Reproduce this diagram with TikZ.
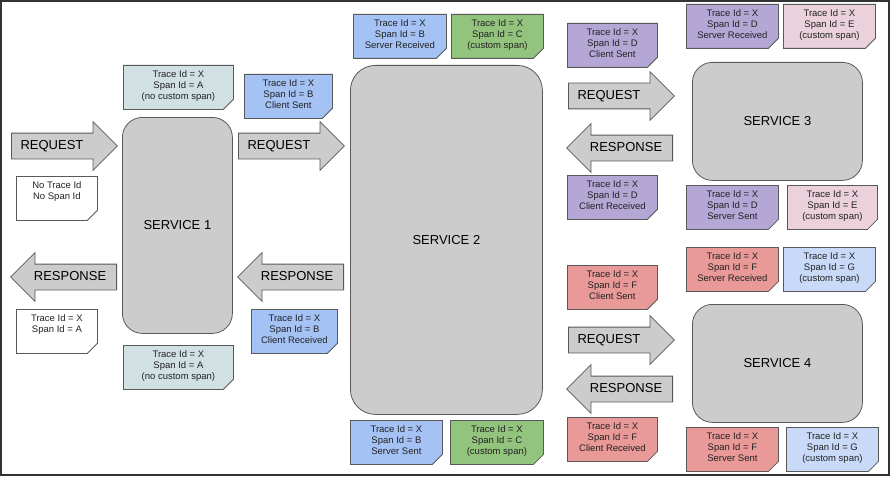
\documentclass[tikz,border=0pt]{standalone}
\usepackage{fontspec}
\setmainfont{Liberation Sans}
\usetikzlibrary{shapes.misc,shapes.arrows}

\definecolor{linegray}{HTML}{595959}
\definecolor{boxgray}{HTML}{CCCCCC}
\definecolor{framegray}{HTML}{333333}
\definecolor{txtgray}{HTML}{222222}
\definecolor{spanA}{HTML}{D0E0E3}
\definecolor{spanB}{HTML}{A4C2F4}
\definecolor{spanC}{HTML}{93C47D}
\definecolor{spanD}{HTML}{B4A7D6}
\definecolor{spanE}{HTML}{EAD1DC}
\definecolor{spanF}{HTML}{EA9999}
\definecolor{spanG}{HTML}{C9DAF8}
\definecolor{spanW}{HTML}{FFFFFF}

% note text: lines from the top, fixed depth
\newcommand{\ntxt}[1]{\begin{tabular}[t]{@{}c@{}}#1\end{tabular}\rule[-26.4pt]{0pt}{1pt}}

\tikzset{
  note/.style={chamfered rectangle, chamfered rectangle corners=south east,
    chamfered rectangle sep=5pt, draw=linegray, line width=0.8pt, fill=#1,
    inner xsep=0pt, inner ysep=0pt, minimum height=44pt, anchor=north west,
    text=txtgray, font=\fontsize{9.5}{10.8}\selectfont,
    path picture={\fill[#1!80!black] (path picture bounding box.south east)
      ++(-5pt,0) -- ++(5pt,5pt) -- ++(-5pt,0) -- cycle;}},
  service/.style={rectangle, draw=linegray, line width=0.8pt, fill=boxgray,
    rounded corners=#1, anchor=north west, font=\fontsize{13}{13}\selectfont},
  bigarrow/.style={single arrow, draw=linegray, line width=0.8pt, fill=boxgray,
    single arrow head extend=11.5pt, single arrow head indent=0pt,
    minimum height=106pt, inner ysep=6.5pt, text height=9.5pt, text depth=2.5pt,
    anchor=tail, font=\fontsize{13}{13}\selectfont},
  leftarrow/.style={bigarrow, shape border rotate=180}
}

\begin{document}
\begin{tikzpicture}[x=1pt,y=-1pt]
\useasboundingbox (0,0) rectangle (890,476);
\draw[line width=2pt,color=framegray] (1,1) rectangle (889,475);

% services
\node[service=20pt, minimum width=110pt, minimum height=216pt] (svc1) at (122,117) {SERVICE 1};
\node[service=25pt, minimum width=192pt, minimum height=349pt] (svc2) at (350,65) {SERVICE 2};
\node[service=20pt, minimum width=170pt, minimum height=118pt] (svc3) at (692,62) {SERVICE 3};
\node[service=20pt, minimum width=170pt, minimum height=118pt] (svc4) at (692,304) {SERVICE 4};

% arrows
\node[bigarrow] (req1) at (11,146) {REQUEST\kern12pt};
\node[leftarrow] (resp1) at (117,277) {RESPONSE};
\node[bigarrow] (req2) at (238,146) {REQUEST\kern12pt};
\node[leftarrow] (resp2) at (344,277) {RESPONSE};
\node[bigarrow] (req3) at (568,96) {REQUEST\kern12pt};
\node[leftarrow] (resp3) at (673,148) {RESPONSE};
\node[bigarrow] (req4) at (568,340) {REQUEST\kern12pt};
\node[leftarrow] (resp4) at (673,389) {RESPONSE};

% notes around service 1
\node[note=spanA, minimum width=110pt] (aTop) at (123,65) {\ntxt{Trace Id = X\\Span Id = A\\(no custom span)}};
\node[note=spanW, minimum width=81pt] (noId) at (16,176) {\ntxt{No Trace Id\\No Span Id}};
\node[note=spanW, minimum width=81pt] (idA) at (16,309) {\ntxt{Trace Id = X\\Span Id = A}};
\node[note=spanA, minimum width=110pt] (aBot) at (123,345) {\ntxt{Trace Id = X\\Span Id = A\\(no custom span)}};

% notes around service 2
\node[note=spanB, minimum width=88pt] (bCS) at (244,74) {\ntxt{Trace Id = X\\Span Id = B\\Client Sent}};
\node[note=spanB, minimum width=86pt] (bCR) at (251,309) {\ntxt{Trace Id = X\\Span Id = B\\Client Received}};
\node[note=spanB, minimum width=93pt] (bSR) at (353,14) {\ntxt{Trace Id = X\\Span Id = B\\Server Received}};
\node[note=spanC, minimum width=92pt] (cTop) at (451,14) {\ntxt{Trace Id = X\\Span Id = C\\(custom span)}};
\node[note=spanB, minimum width=92pt] (bSS) at (350,420) {\ntxt{Trace Id = X\\Span Id = B\\Server Sent}};
\node[note=spanC, minimum width=93pt] (cBot) at (450,420) {\ntxt{Trace Id = X\\Span Id = C\\(custom span)}};

% notes around service 3
\node[note=spanD, minimum width=90pt] (dCS) at (567,23) {\ntxt{Trace Id = X\\Span Id = D\\Client Sent}};
\node[note=spanD, minimum width=92pt] (dSR) at (686,4) {\ntxt{Trace Id = X\\Span Id = D\\Server Received}};
\node[note=spanE, minimum width=92pt] (eTop) at (783,4) {\ntxt{Trace Id = X\\Span Id = E\\(custom span)}};
\node[note=spanD, minimum width=90pt] (dCR) at (567,175) {\ntxt{Trace Id = X\\Span Id = D\\Client Received}};
\node[note=spanD, minimum width=92pt] (dSS) at (686,185) {\ntxt{Trace Id = X\\Span Id = D\\Server Sent}};
\node[note=spanE, minimum width=90pt] (eBot) at (787,185) {\ntxt{Trace Id = X\\Span Id = E\\(custom span)}};

% notes around service 4
\node[note=spanF, minimum width=90pt] (fCS) at (567,265) {\ntxt{Trace Id = X\\Span Id = F\\Client Sent}};
\node[note=spanF, minimum width=92pt] (fSR) at (686,247) {\ntxt{Trace Id = X\\Span Id = F\\Server Received}};
\node[note=spanG, minimum width=92pt] (gTop) at (783,247) {\ntxt{Trace Id = X\\Span Id = G\\(custom span)}};
\node[note=spanF, minimum width=90pt] (fCR) at (567,417) {\ntxt{Trace Id = X\\Span Id = F\\Client Received}};
\node[note=spanF, minimum width=92pt] (fSS) at (686,427) {\ntxt{Trace Id = X\\Span Id = F\\Server Sent}};
\node[note=spanG, minimum width=92pt] (gBot) at (786,427) {\ntxt{Trace Id = X\\Span Id = G\\(custom span)}};
\end{tikzpicture}
\end{document}
